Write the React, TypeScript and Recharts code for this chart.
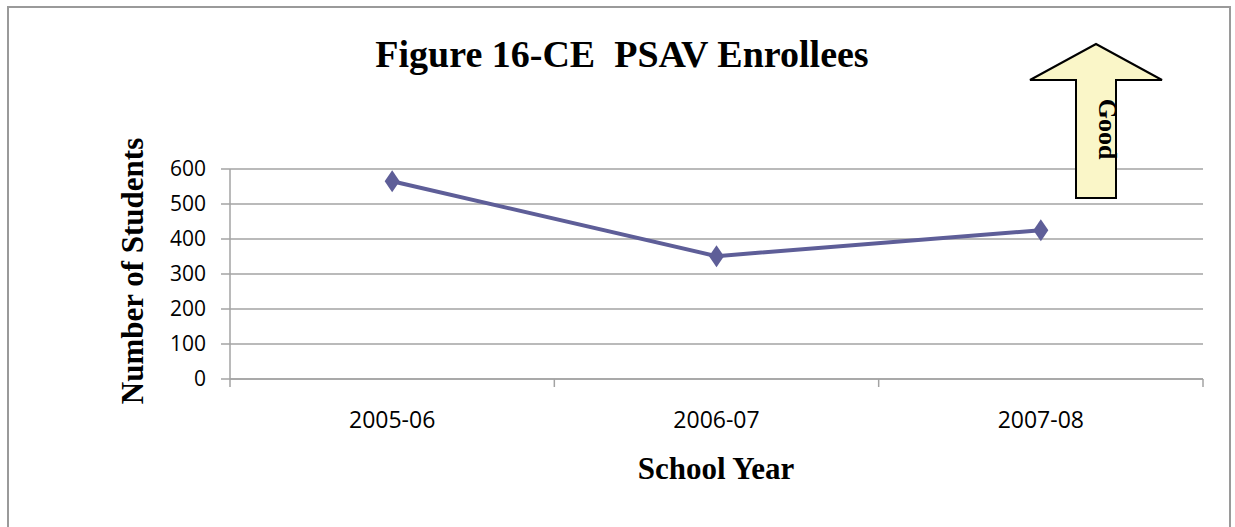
import { LineChart, Line, XAxis, YAxis, CartesianGrid, Customized } from "recharts";

// PSAV enrollees by school year
const SCHOOL_YEARS = ["2005-06", "2006-07", "2007-08"];
const ENROLLEES = [565, 351, 425];
const Y_TICKS = [0, 100, 200, 300, 400, 500, 600];

const data = SCHOOL_YEARS.map((year, i) => ({ year, students: ENROLLEES[i] }));

const W = 1235;
const H = 527;
const PLOT_LEFT = 230;
const PLOT_RIGHT = 1203;
const PLOT_TOP = 169;
const PLOT_BOTTOM = 379;
const BAND = (PLOT_RIGHT - PLOT_LEFT) / SCHOOL_YEARS.length;

const GRID = "#a3a3a3";
const LINE = "#5e5e98";
const SERIF = "'Liberation Serif', 'Times New Roman', serif";
const SANS = "'Open Sans', sans-serif";

// category tick: marks sit on band edges, label in the band centre
const YearTick = (props: any) => {
  const { x, y, payload, index, visibleTicksCount } = props;
  const last = index === visibleTicksCount - 1;
  return (
    <g>
      <line x1={x - BAND / 2} y1={y} x2={x - BAND / 2} y2={y + 8} stroke={GRID} strokeWidth={1.5} />
      {last && <line x1={x + BAND / 2} y1={y} x2={x + BAND / 2} y2={y + 8} stroke={GRID} strokeWidth={1.5} />}
      <text x={x} y={y + 49} textAnchor="middle" fill="#000" style={{ fontFamily: SANS, fontSize: 23 }}>
        {payload.value}
      </text>
    </g>
  );
};

const Diamond = (props: any) => {
  const { cx, cy } = props;
  if (cx == null || cy == null) return null;
  return <polygon points={`${cx},${cy - 11} ${cx + 7.5},${cy} ${cx},${cy + 11} ${cx - 7.5},${cy}`} fill={LINE} />;
};

const Decorations = () => (
  <g>
    <text x={622} y={67} textAnchor="middle" fill="#000" style={{ fontFamily: SERIF, fontSize: 38, fontWeight: 700, whiteSpace: "pre" }}>
      {"Figure 16-CE  PSAV Enrollees"}
    </text>
    <text
      x={143}
      y={271}
      textAnchor="middle"
      transform="rotate(-90 143 271)"
      fill="#000"
      style={{ fontFamily: SERIF, fontSize: 31, fontWeight: 700 }}
    >
      Number of Students
    </text>
    <text x={716} y={479} textAnchor="middle" fill="#000" style={{ fontFamily: SERIF, fontSize: 31, fontWeight: 700 }}>
      School Year
    </text>
    {/* "Good" arrow */}
    <polygon
      points="1096,44 1162,80 1116,80 1116,198 1076,198 1076,80 1030,80"
      fill="#faf6c8"
      stroke="#000"
      strokeWidth={2}
      strokeLinejoin="miter"
    />
    <text
      x={1099}
      y={129}
      textAnchor="middle"
      transform="rotate(90 1099 129)"
      fill="#000"
      style={{ fontFamily: SERIF, fontSize: 26, fontWeight: 700 }}
    >
      Good
    </text>
  </g>
);

export default function App() {
  return (
    <div style={{ position: "absolute", left: 0, top: 0, width: W, height: H, overflow: "hidden", background: "#fff" }}>
      <div
        style={{
          position: "absolute",
          left: 7,
          top: 6,
          width: 1224,
          height: 600,
          border: "2px solid #9a9a9a",
          boxSizing: "border-box",
        }}
      />
      <div style={{ position: "absolute", left: 0, top: 0 }}>
        <LineChart
          width={W}
          height={H}
          data={data}
          margin={{ top: PLOT_TOP, right: W - PLOT_RIGHT, bottom: H - PLOT_BOTTOM - 60, left: 0 }}
        >
          <CartesianGrid vertical={false} stroke={GRID} strokeWidth={1.5} />
          <XAxis
            dataKey="year"
            height={60}
            padding={{ left: BAND / 2, right: BAND / 2 }}
            axisLine={{ stroke: GRID, strokeWidth: 1.5 }}
            tickLine={false}
            tickSize={0}
            tickMargin={0}
            tick={<YearTick />}
            interval={0}
          />
          <YAxis
            width={PLOT_LEFT}
            domain={[0, 600]}
            ticks={Y_TICKS}
            interval={0}
            axisLine={{ stroke: GRID, strokeWidth: 1.5 }}
            tickLine={{ stroke: GRID, strokeWidth: 1.5 }}
            tickSize={9}
            tickMargin={15}
            tick={{ fill: "#000", fontFamily: SANS, fontSize: 21 }}
          />
          <Line
            dataKey="students"
            stroke={LINE}
            strokeWidth={4}
            dot={<Diamond />}
            activeDot={false}
            isAnimationActive={false}
          />
          <Customized component={Decorations} />
        </LineChart>
      </div>
    </div>
  );
}
